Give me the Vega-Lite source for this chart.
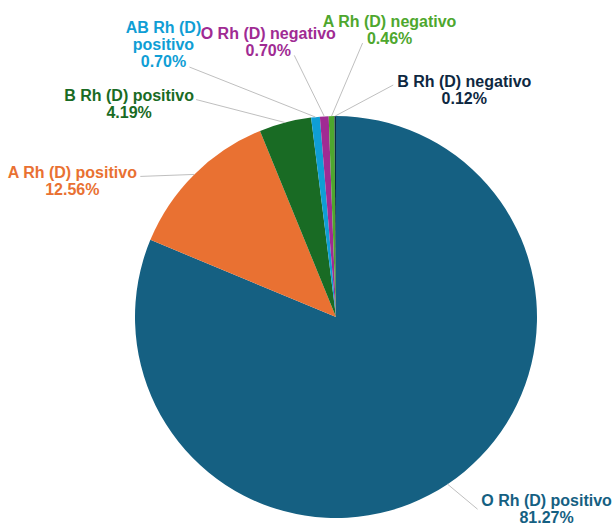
{
  "$schema": "https://vega.github.io/schema/vega-lite/v6.json",
  "autosize": {"type": "none"},
  "padding": {"left": 57, "top": 110, "right": 0, "bottom": 3},
  "width": 558,
  "height": 414,
  "background": "white",
  "config": {"view": {"stroke": null}, "text": {"font": "Liberation Sans"}},
  "data": {
    "values": [
      {"orden": 1, "tipo": "O Rh (D) positivo", "pct": 81.27},
      {"orden": 2, "tipo": "A Rh (D) positivo", "pct": 12.56},
      {"orden": 3, "tipo": "B Rh (D) positivo", "pct": 4.19},
      {"orden": 4, "tipo": "AB Rh (D) positivo", "pct": 0.70},
      {"orden": 5, "tipo": "O Rh (D) negativo", "pct": 0.70},
      {"orden": 6, "tipo": "A Rh (D) negativo", "pct": 0.46},
      {"orden": 7, "tipo": "B Rh (D) negativo", "pct": 0.12}
    ]
  },
  "layer": [
    {
      "mark": {"type": "arc", "radius": 201, "stroke": null},
      "encoding": {
        "theta": {"field": "pct", "type": "quantitative", "stack": true},
        "order": {"field": "orden", "type": "quantitative"},
        "color": {
          "field": "tipo", "type": "nominal", "legend": null,
          "scale": {
            "domain": ["O Rh (D) positivo", "A Rh (D) positivo", "B Rh (D) positivo", "AB Rh (D) positivo", "O Rh (D) negativo", "A Rh (D) negativo", "B Rh (D) negativo"],
            "range": ["#156082", "#e97132", "#196b24", "#0f9ed5", "#a02b93", "#4ea72e", "#0e2841"]
          }
        }
      }
    },
    {
      "transform": [
        {"window": [{"op": "sum", "field": "pct", "as": "cum"}], "sort": [{"field": "orden"}], "frame": [null, 0]},
        {"calculate": "(datum.cum - datum.pct / 2) * 2 * PI / 100", "as": "ang"},
        {"calculate": "201 * sin(datum.ang)", "as": "lx1"},
        {"calculate": "201 * cos(datum.ang)", "as": "ly1"},
        {"calculate": "datum.lx1 + [0, 30, -54, -89, -126, -30, 31, 58][datum.orden]", "as": "lx2"},
        {"calculate": "datum.ly1 - [0, 25, 2, -23, -50, -61, -73, -31][datum.orden]", "as": "ly2"}
      ],
      "mark": {"type": "rule", "color": "#bfbfbf", "strokeWidth": 1},
      "encoding": {
        "x": {"field": "lx1", "type": "quantitative", "scale": {"domain": [-279, 279], "nice": false, "zero": false}, "axis": null},
        "y": {"field": "ly1", "type": "quantitative", "scale": {"domain": [-207, 207], "nice": false, "zero": false}, "axis": null},
        "x2": {"field": "lx2"},
        "y2": {"field": "ly2"}
      }
    },
    {
      "transform": [
        {"calculate": "[datum.tipo, format(datum.pct, '.2f') + '%']", "as": "lbl"},
        {"calculate": "[slice(datum.tipo, 0, 9), slice(datum.tipo, 10), format(datum.pct, '.2f') + '%']", "as": "lbl3"}
      ],
      "encoding": {
        "theta": {"field": "pct", "type": "quantitative", "stack": true},
        "order": {"field": "orden", "type": "quantitative"},
        "color": {"field": "tipo", "type": "nominal", "legend": null}
      },
      "layer": [
        {
          "mark": {"type": "text", "radius": 201, "dx": 99, "dy": 17, "fontSize": 16, "fontWeight": "bold", "lineHeight": 17, "align": "center", "baseline": "middle"},
          "encoding": {"text": {"condition": {"test": "datum.orden === 1", "field": "lbl", "type": "nominal"}, "value": ""}}
        },
        {
          "mark": {"type": "text", "radius": 201, "dx": -122, "dy": -1.5, "fontSize": 16, "fontWeight": "bold", "lineHeight": 17, "align": "center", "baseline": "middle"},
          "encoding": {"text": {"condition": {"test": "datum.orden === 2", "field": "lbl", "type": "nominal"}, "value": ""}}
        },
        {
          "mark": {"type": "text", "radius": 201, "dx": -156, "dy": -26.5, "fontSize": 16, "fontWeight": "bold", "lineHeight": 17, "align": "center", "baseline": "middle"},
          "encoding": {"text": {"condition": {"test": "datum.orden === 3", "field": "lbl", "type": "nominal"}, "value": ""}}
        },
        {
          "mark": {"type": "text", "radius": 201, "dx": -152, "dy": -89, "fontSize": 16, "fontWeight": "bold", "lineHeight": 17, "align": "center", "baseline": "middle"},
          "encoding": {"text": {"condition": {"test": "datum.orden === 4", "field": "lbl3", "type": "nominal"}, "value": ""}}
        },
        {
          "mark": {"type": "text", "radius": 201, "dx": -56, "dy": -82.5, "fontSize": 16, "fontWeight": "bold", "lineHeight": 17, "align": "center", "baseline": "middle"},
          "encoding": {"text": {"condition": {"test": "datum.orden === 5", "field": "lbl", "type": "nominal"}, "value": ""}}
        },
        {
          "mark": {"type": "text", "radius": 201, "dx": 58, "dy": -94.5, "fontSize": 16, "fontWeight": "bold", "lineHeight": 17, "align": "center", "baseline": "middle"},
          "encoding": {"text": {"condition": {"test": "datum.orden === 6", "field": "lbl", "type": "nominal"}, "value": ""}}
        },
        {
          "mark": {"type": "text", "radius": 201, "dx": 129, "dy": -34.5, "fontSize": 16, "fontWeight": "bold", "lineHeight": 17, "align": "center", "baseline": "middle"},
          "encoding": {"text": {"condition": {"test": "datum.orden === 7", "field": "lbl", "type": "nominal"}, "value": ""}}
        }
      ]
    }
  ]
}
